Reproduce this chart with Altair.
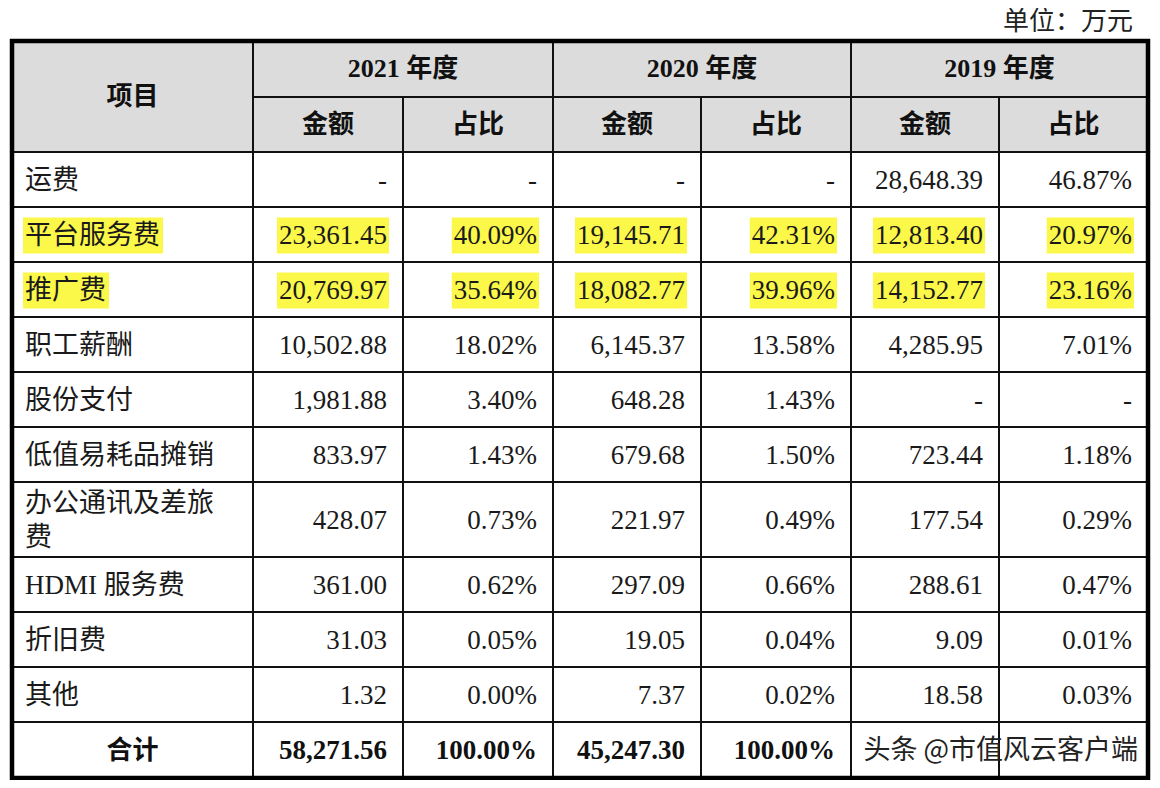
import altair as alt
import pandas as pd

# ---------------- data ----------------
items = ["运费", "平台服务费", "推广费", "职工薪酬", "股份支付", "低值易耗品摊销",
         "办公通讯及差旅\n费", "HDMI 服务费", "折旧费", "其他"]
amt_2021 = ["-", "23,361.45", "20,769.97", "10,502.88", "1,981.88", "833.97",
            "428.07", "361.00", "31.03", "1.32"]
pct_2021 = ["-", "40.09%", "35.64%", "18.02%", "3.40%", "1.43%",
            "0.73%", "0.62%", "0.05%", "0.00%"]
amt_2020 = ["-", "19,145.71", "18,082.77", "6,145.37", "648.28", "679.68",
            "221.97", "297.09", "19.05", "7.37"]
pct_2020 = ["-", "42.31%", "39.96%", "13.58%", "1.43%", "1.50%",
            "0.49%", "0.66%", "0.04%", "0.02%"]
amt_2019 = ["28,648.39", "12,813.40", "14,152.77", "4,285.95", "-", "723.44",
            "177.54", "288.61", "9.09", "18.58"]
pct_2019 = ["46.87%", "20.97%", "23.16%", "7.01%", "-", "1.18%",
            "0.29%", "0.47%", "0.01%", "0.03%"]
highlighted = ["平台服务费", "推广费"]
total_label = "合计"
# visible totals (2019 totals are covered by the watermark in the reference)
totals = ["58,271.56", "100.00%", "45,247.30", "100.00%"]
years = ["2021 年度", "2020 年度", "2019 年度"]
sub_headers = ["金额", "占比"]
item_header = "项目"
unit_text = "单位：万元"
watermark = "头条 @市值风云客户端"

# ---------------- layout ----------------
col_edges = [12, 253, 403, 553, 701, 851, 999, 1148]
head_top, head_mid, head_bot = 41, 97, 152
row_edges = [152, 207, 262, 317, 372, 427, 482, 557, 612, 667, 722, 778]
FS = 27
LH = 34
RPAD = 16
SERIF_CJK = "Liberation Serif, Noto Sans CJK SC"
LINE = "#111111"

def text_w(s, fs):
    w = 0.0
    for ch in s:
        if ch in ",.":
            w += 0.25
        elif ch == "%":
            w += 0.833
        elif ch.isdigit():
            w += 0.5
        elif ch == "-":
            w += 0.333
        elif ord(ch) > 0x2E80:
            w += 1.0
        else:
            w += 0.5
    return w * fs

XS = alt.Scale(domain=[8, 1152], range=[0, 1144])
YS = alt.Scale(domain=[8, 780], range=[0, 772])

def X(f="x"):
    return alt.X(f, type="quantitative", scale=XS, axis=None)

def X2(f="x2"):
    return alt.X2(f)

def Y(f="y"):
    return alt.Y(f, type="quantitative", scale=YS, axis=None)

def Y2(f="y2"):
    return alt.Y2(f)

# body cells
cols = [amt_2021, pct_2021, amt_2020, pct_2020, amt_2019, pct_2019]
body, hl, names = [], [], []
for i, name in enumerate(items):
    top, bot = row_edges[i], row_edges[i + 1]
    cy = (top + bot) / 2 + 1
    n_lines = name.count("\n") + 1
    names.append({"t": name, "x": 25, "y": cy - (n_lines - 1) * LH / 2})
    is_hl = name in highlighted
    if is_hl:
        w = text_w(name, FS)
        hl.append({"x": 25 - 2, "x2": 25 + w + 3, "y": cy - 18, "y2": cy + 18})
    for j, arr in enumerate(cols):
        right = col_edges[j + 2] - RPAD
        body.append({"t": arr[i], "x": right, "y": cy})
        if is_hl:
            w = text_w(arr[i], FS)
            hl.append({"x": right - w - 2, "x2": right + 2, "y": cy - 18, "y2": cy + 18})

# totals
ttop, tbot = row_edges[-2], row_edges[-1]
tcy = (ttop + tbot) / 2 + 1
tot_rows = [{"t": v, "x": col_edges[j + 2] - RPAD, "y": tcy} for j, v in enumerate(totals)]
tot_label = [{"t": total_label, "x": (col_edges[0] + col_edges[1]) / 2, "y": tcy}]

# header texts
hdr = [{"t": item_header, "x": (col_edges[0] + col_edges[1]) / 2, "y": (head_top + head_bot) / 2}]
for k, yr in enumerate(years):
    hdr.append({"t": yr, "x": (col_edges[1 + 2 * k] + col_edges[3 + 2 * k]) / 2,
                "y": (head_top + head_mid) / 2})
    for s, sh in enumerate(sub_headers):
        hdr.append({"t": sh, "x": (col_edges[1 + 2 * k + s] + col_edges[2 + 2 * k + s]) / 2,
                    "y": (head_mid + head_bot) / 2})

# grid lines
hlines = [{"x": col_edges[1], "x2": col_edges[-1], "y": head_mid}]
for r in row_edges[:-1]:
    hlines.append({"x": col_edges[0], "x2": col_edges[-1], "y": r})
vlines = []
for k, c in enumerate(col_edges[1:-1]):
    start = head_top if k % 2 == 0 else head_mid
    vlines.append({"x": c, "y": start, "y2": row_edges[-1]})

frame = [{"x": col_edges[0], "x2": col_edges[-1], "y": head_top, "y2": row_edges[-1]}]
head_bg = [{"x": col_edges[0], "x2": col_edges[-1], "y": head_top, "y2": head_bot}]

# ---------------- layers ----------------
bg = alt.Chart(pd.DataFrame(head_bg)).mark_rect(color="#dcdcdc").encode(
    x=X(), x2=X2(), y=Y(), y2=Y2())
hl_layer = alt.Chart(pd.DataFrame(hl)).mark_rect(color="#fbf84a").encode(
    x=X(), x2=X2(), y=Y(), y2=Y2())
hl_rules = alt.Chart(pd.DataFrame(hlines)).mark_rule(color=LINE, strokeWidth=2).encode(
    x=X(), x2=X2(), y=Y())
vl_rules = alt.Chart(pd.DataFrame(vlines)).mark_rule(color=LINE, strokeWidth=2).encode(
    x=X(), y=Y(), y2=Y2())
frame_layer = alt.Chart(pd.DataFrame(frame)).mark_rect(
    fill=None, fillOpacity=0, stroke="#000000", strokeWidth=4.5).encode(
    x=X(), x2=X2(), y=Y(), y2=Y2())

name_layer = alt.Chart(pd.DataFrame(names)).mark_text(
    align="left", baseline="middle", font=SERIF_CJK, fontSize=FS, color="#1a1a1a",
    lineBreak="\n", lineHeight=LH).encode(x=X(), y=Y(), text="t:N")
body_layer = alt.Chart(pd.DataFrame(body)).mark_text(
    align="right", baseline="middle", font=SERIF_CJK, fontSize=FS, color="#1a1a1a").encode(
    x=X(), y=Y(), text="t:N")
hdr_layer = alt.Chart(pd.DataFrame(hdr)).mark_text(
    align="center", baseline="middle", font=SERIF_CJK, fontSize=26, fontWeight="bold",
    color="#111111").encode(x=X(), y=Y(), text="t:N")
tot_layer = alt.Chart(pd.DataFrame(tot_rows)).mark_text(
    align="right", baseline="middle", font=SERIF_CJK, fontSize=FS, fontWeight="bold",
    color="#111111").encode(x=X(), y=Y(), text="t:N")
totl_layer = alt.Chart(pd.DataFrame(tot_label)).mark_text(
    align="center", baseline="middle", font=SERIF_CJK, fontSize=26, fontWeight="bold",
    color="#111111").encode(x=X(), y=Y(), text="t:N")
unit_layer = alt.Chart(pd.DataFrame([{"t": unit_text, "x": 1133, "y": 22}])).mark_text(
    align="right", baseline="middle", font=SERIF_CJK, fontSize=26,
    color="#222222").encode(x=X(), y=Y(), text="t:N")

wm_text = alt.Chart(pd.DataFrame([{"t": watermark, "x": 1138, "y": 751}])).mark_text(
    align="right", baseline="middle", font="Noto Sans CJK SC", fontSize=27,
    color="#222222").encode(x=X(), y=Y(), text="t:N")

chart = alt.layer(
    bg, hl_layer, hl_rules, vl_rules, frame_layer,
    name_layer, body_layer, hdr_layer, tot_layer, totl_layer, unit_layer,
    wm_text,
).properties(width=1144, height=772, padding=0, autosize="none",
             background="#ffffff").configure_view(stroke=None)

chart.save("out.html", embed_options={"renderer": "svg", "actions": False})
